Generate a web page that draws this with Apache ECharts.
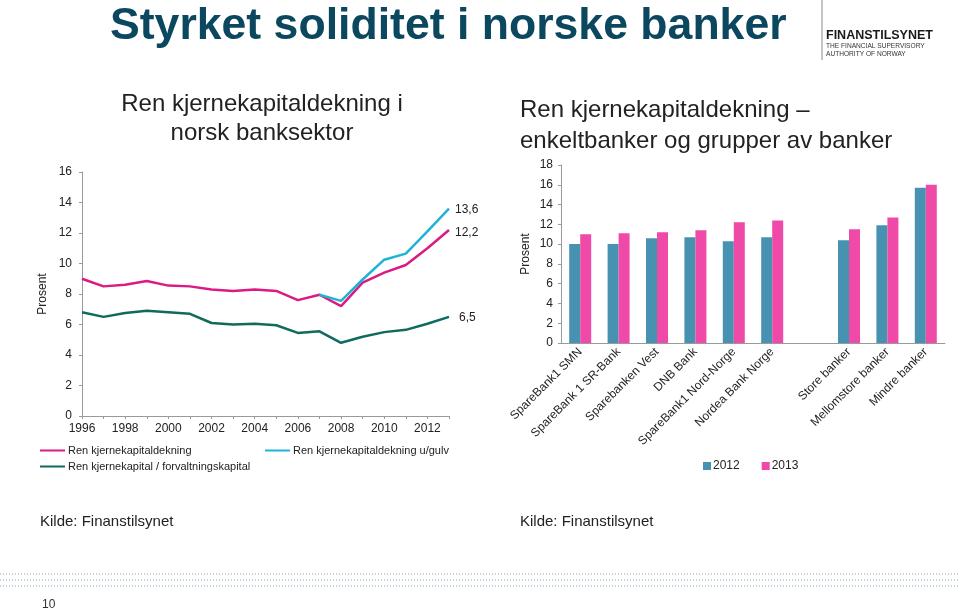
<!DOCTYPE html>
<html>
<head>
<meta charset="utf-8">
<script src="https://cdn.jsdelivr.net/npm/echarts@6/dist/echarts.min.js"></script>
<style>
  html, body { margin: 0; padding: 0; background: #fff; }
  #main { width: 960px; height: 609px; }
</style>
</head>
<body>
<div id="main"></div>
<script>
// venstre figur: ren kjernekapitaldekning i norsk banksektor
var years = ['1996', '1997', '1998', '1999', '2000', '2001', '2002', '2003', '2004',
  '2005', '2006', '2007', '2008', '2009', '2010', '2011', '2012', '2013'];
var renKjerne = [9.0, 8.5, 8.6, 8.85, 8.55, 8.5, 8.3, 8.2, 8.3, 8.2, 7.6, 7.95, 7.2, 8.75, 9.4, 9.9, 11.0, 12.2];
var renKjerneGulv = [null, null, null, null, null, null, null, null, null, null, null, 7.95, 7.55, 8.95, 10.25, 10.65, 12.1, 13.6];
var renKjerneForv = [6.8, 6.5, 6.75, 6.9, 6.8, 6.7, 6.1, 6.0, 6.05, 5.95, 5.45, 5.55, 4.8, 5.2, 5.5, 5.65, 6.05, 6.5];
var endLabels = ['12,2', '13,6', '6,5'];
var lineNames = ['Ren kjernekapitaldekning', 'Ren kjernekapitaldekning u/gulv', 'Ren kjernekapital / forvaltningskapital'];

// høyre figur: enkeltbanker og grupper av banker
var banks = ['SpareBank1 SMN', 'SpareBank 1 SR-Bank', 'Sparebanken Vest', 'DNB Bank',
  'SpareBank1 Nord-Norge', 'Nordea Bank Norge', '', 'Store banker', 'Mellomstore banker', 'Mindre banker'];
var val2012 = [10.0, 10.0, 10.6, 10.7, 10.3, 10.7, null, 10.4, 11.9, 15.7];
var val2013 = [11.0, 11.1, 11.2, 11.4, 12.2, 12.4, null, 11.5, 12.7, 16.0];

var font = 'Liberation Sans, Arial, sans-serif';
var axisGray = '#9a9a9a';
var txt = '#222';

var chart = echarts.init(document.getElementById('main'));

// prikkete linjer nederst
var dots = [574, 580, 586].map(function (y) {
  return {
    type: 'line', silent: true,
    shape: { x1: 0, y1: y, x2: 960, y2: y },
    style: { stroke: '#c3d1d8', lineWidth: 2, lineDash: [1, 2] }
  };
});

var option = {
  backgroundColor: '#fff',
  animation: false,
  textStyle: { fontFamily: font },
  graphic: [
    { type: 'text', left: 110, top: 4,
      style: { text: 'Styrket soliditet i norske banker', font: 'bold 44.6px ' + font, fill: '#0c4760' } },
    { type: 'line', shape: { x1: 822, y1: 0, x2: 822, y2: 60 }, style: { stroke: '#8a8a8a', lineWidth: 1 } },
    { type: 'text', left: 826, top: 29,
      style: { text: 'FINANSTILSYNET', font: 'bold 12.5px ' + font, fill: '#1a1a1a' } },
    { type: 'text', left: 826, top: 43,
      style: { text: 'THE FINANCIAL SUPERVISORY', font: '6.6px ' + font, fill: '#333' } },
    { type: 'text', left: 826, top: 51,
      style: { text: 'AUTHORITY OF NORWAY', font: '6.6px ' + font, fill: '#333' } },
    { type: 'text', x: 262, y: 90,
      style: { text: 'Ren kjernekapitaldekning i\nnorsk banksektor', font: '24px ' + font, fill: txt,
        align: 'center', lineHeight: 29 } },
    { type: 'text', x: 520, y: 95,
      style: { text: 'Ren kjernekapitaldekning \u2013\nenkeltbanker og grupper av banker', font: '24px ' + font,
        fill: txt, align: 'left', lineHeight: 31 } },
    { type: 'text', left: 40, top: 514,
      style: { text: 'Kilde: Finanstilsynet', font: '15px ' + font, fill: txt } },
    { type: 'text', left: 520, top: 514,
      style: { text: 'Kilde: Finanstilsynet', font: '15px ' + font, fill: txt } },
    { type: 'text', left: 42, top: 599,
      style: { text: '10', font: '12px ' + font, fill: '#333' } }
  ].concat(dots),
  legend: [
    { left: 40, top: 445, padding: 0, data: [lineNames[0]], icon: 'rect', itemWidth: 25, itemHeight: 2,
      textStyle: { fontSize: 11, color: txt, padding: [0, 0, 0, -2] } },
    { left: 265, top: 445, padding: 0, data: [lineNames[1]], icon: 'rect', itemWidth: 25, itemHeight: 2,
      textStyle: { fontSize: 11, color: txt, padding: [0, 0, 0, -2] } },
    { left: 40, top: 461, padding: 0, data: [lineNames[2]], icon: 'rect', itemWidth: 25, itemHeight: 2,
      textStyle: { fontSize: 11, color: txt, padding: [0, 0, 0, -2] } },
    { left: 703, top: 460, padding: 0, data: ['2012', '2013'], icon: 'rect', itemWidth: 8, itemHeight: 8, itemGap: 22,
      textStyle: { fontSize: 12, color: txt, padding: [0, 0, 0, -3] } }
  ],
  grid: [
    { left: 82, top: 172, width: 367, height: 244 },
    { left: 561, top: 165, width: 384, height: 178 }
  ],
  xAxis: [
    { type: 'category', gridIndex: 0, data: years, boundaryGap: false,
      axisLine: { lineStyle: { color: axisGray } },
      axisTick: { interval: 0, length: 3, lineStyle: { color: axisGray } },
      axisLabel: { interval: 1, fontSize: 12, color: txt, margin: 7 } },
    { type: 'category', gridIndex: 1, data: banks,
      axisLine: { lineStyle: { color: axisGray } },
      axisTick: { length: 3, lineStyle: { color: axisGray } },
      axisLabel: { interval: 0, rotate: 45, fontSize: 12, color: txt, margin: 7 } }
  ],
  yAxis: [
    { type: 'value', gridIndex: 0, min: 0, max: 16, interval: 2,
      name: 'Prosent', nameLocation: 'middle', nameGap: 33,
      nameTextStyle: { fontSize: 12, color: txt },
      axisLine: { show: true, lineStyle: { color: axisGray } },
      axisTick: { show: true, length: 3, lineStyle: { color: axisGray } },
      splitLine: { show: false },
      axisLabel: { fontSize: 12, color: txt, margin: 10 } },
    { type: 'value', gridIndex: 1, min: 0, max: 18, interval: 2,
      name: 'Prosent', nameLocation: 'middle', nameGap: 29,
      nameTextStyle: { fontSize: 12, color: txt },
      axisLine: { show: true, lineStyle: { color: axisGray } },
      axisTick: { show: true, length: 3, lineStyle: { color: axisGray } },
      splitLine: { show: false },
      axisLabel: { fontSize: 12, color: txt, margin: 8 } }
  ],
  series: [
    { name: lineNames[0], type: 'line', xAxisIndex: 0, yAxisIndex: 0, data: renKjerne,
      showSymbol: false, color: '#db1a83', lineStyle: { width: 2.5 },
      endLabel: { show: true, formatter: endLabels[0], fontSize: 12, color: txt, distance: 6, offset: [0, 3] } },
    { name: lineNames[1], type: 'line', xAxisIndex: 0, yAxisIndex: 0, data: renKjerneGulv,
      showSymbol: false, color: '#1fb3d5', lineStyle: { width: 2.5 },
      endLabel: { show: true, formatter: endLabels[1], fontSize: 12, color: txt, distance: 6, offset: [0, 1] } },
    { name: lineNames[2], type: 'line', xAxisIndex: 0, yAxisIndex: 0, data: renKjerneForv,
      showSymbol: false, color: '#0f6b5d', lineStyle: { width: 2.5 },
      endLabel: { show: true, formatter: endLabels[2], fontSize: 12, color: txt, distance: 10, offset: [0, 1] } },
    { name: '2012', type: 'bar', xAxisIndex: 1, yAxisIndex: 1, data: val2012,
      color: '#4792b0', barWidth: 11, barGap: '0%' },
    { name: '2013', type: 'bar', xAxisIndex: 1, yAxisIndex: 1, data: val2013,
      color: '#ef4aa8', barWidth: 11, barGap: '0%' }
  ]
};

chart.setOption(option);
</script>
</body>
</html>
